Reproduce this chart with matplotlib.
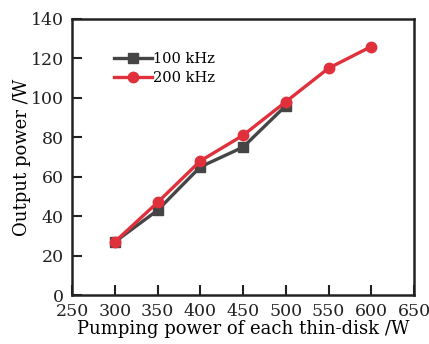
import matplotlib
matplotlib.use("Agg")
import matplotlib.pyplot as plt

# data
pump_100 = [300, 350, 400, 450, 500]
power_100 = [27, 43, 65, 75, 96]
pump_200 = [300, 350, 400, 450, 500, 550, 600]
power_200 = [27, 47, 68, 81, 98, 115, 126]

x_ticks = [250, 300, 350, 400, 450, 500, 550, 600, 650]
y_ticks = [0, 20, 40, 60, 80, 100, 120, 140]

plt.rcParams["font.family"] = ["DejaVu Serif"]

fig = plt.figure(figsize=(4.29, 3.44), dpi=100)
ax = fig.add_axes([0.168, 0.142, 0.797, 0.803])

ax.plot(pump_100, power_100, color="#454545", lw=2.4, marker="s", ms=6.5,
        label="100 kHz")
ax.plot(pump_200, power_200, color="#e0303c", lw=2.4, marker="o", ms=7.5,
        label="200 kHz")

ax.set_xlim(250, 650)
ax.set_ylim(0, 140)
ax.set_xticks(x_ticks)
ax.set_yticks(y_ticks)
ax.tick_params(direction="in", length=7, width=1.5, labelsize=12.5,
               colors="#222222")
ax.tick_params(axis="x", pad=6)
ax.tick_params(axis="y", pad=6)
for s in ax.spines.values():
    s.set_linewidth(1.8)
    s.set_color("#222222")

ax.set_xlabel("Pumping power of each thin-disk /W", fontsize=13, labelpad=0)
ax.set_ylabel("Output power /W", fontsize=13, labelpad=0)

ax.legend(loc="upper left", bbox_to_anchor=(0.105, 0.9), frameon=False,
          fontsize=10.5, handlelength=2.6, handletextpad=0.1,
          labelspacing=0.35, borderaxespad=0)

fig.savefig("out.png", dpi=100)
